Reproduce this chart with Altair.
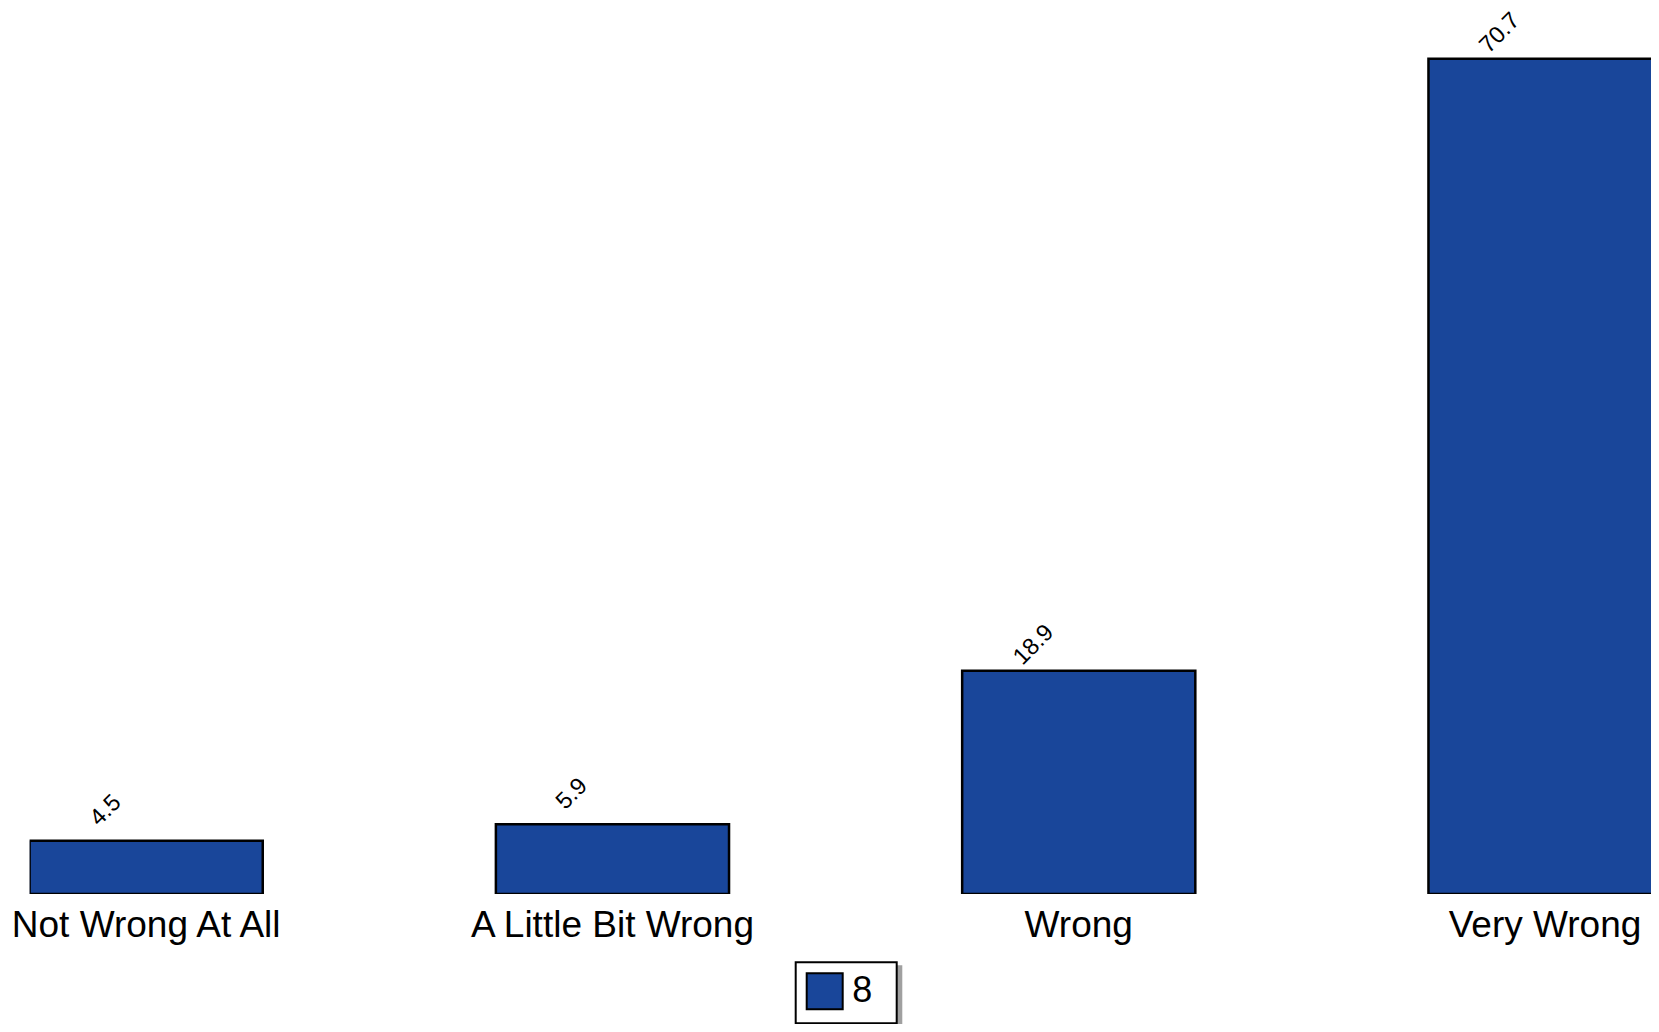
import altair as alt
import pandas as pd

categories = ["Not Wrong At All", "A Little Bit Wrong", "Wrong", "Very Wrong"]
values = [4.5, 5.9, 18.9, 70.7]
series = ["8", "8", "8", "8"]

df = pd.DataFrame({"category": categories, "value": values, "series": series})

FONT = "Liberation Sans"
BLUE = "#19469A"

x_enc = alt.X(
    "category:N",
    sort=categories,
    scale=alt.Scale(range=[0, 1632], paddingInner=0.5, paddingOuter=0),
    axis=alt.Axis(
        title=None, domain=False, ticks=False, tickSize=0, labelAngle=0,
        labelFont=FONT, labelFontSize=37, labelColor="black",
        labelBaseline="alphabetic", labelPadding=42.7, labelLimit=0,
        labelOverlap=False,
    ),
)
y_enc = alt.Y(
    "value:Q",
    scale=alt.Scale(domain=[0, 75], nice=False),
    axis=None,
)

shadow = alt.Chart(pd.DataFrame({"a": [0]})).mark_rect(color="#a0a0a0").encode(
    x=alt.value(769.4), x2=alt.value(872.7),
    y=alt.value(957.3), y2=alt.value(1016.0),
)

bars = alt.Chart(df).mark_bar(stroke="black", strokeWidth=2.5, clip=True).encode(
    x=x_enc,
    y=y_enc,
    color=alt.Color(
        "series:N",
        scale=alt.Scale(range=[BLUE]),
        legend=alt.Legend(
            orient="none", legendX=766.1, legendY=954.3,
            title=".", titleOrient="right", titleColor="white",
            titleFont=FONT, titleFontSize=35, titlePadding=4,
            fillColor="white", strokeColor="black",
            padding=10, symbolType="square", symbolSize=1296,
            symbolStrokeColor="black", symbolStrokeWidth=2,
            symbolFillColor=BLUE, symbolOpacity=1,
            labelFont=FONT, labelFontSize=36, labelColor="black",
            labelOffset=8.5,
        ),
    ),
)

labels = alt.Chart(df).mark_text(
    align="right", baseline="alphabetic", angle=315, clip=False,
    xOffset=-24, yOffset=-37, font=FONT, fontSize=23.5, color="black",
).encode(
    x=alt.X("category:N", sort=categories),
    y=alt.Y("value:Q"),
    text=alt.Text("value:Q", format=".1f"),
)

chart = alt.layer(shadow, bars, labels).properties(
    width=1621.4,
    height=886,
    background="white",
    autosize=alt.AutoSizeParams(type="none"),
    padding={"left": 21.6, "top": 0, "right": 0, "bottom": 130},
).configure_view(stroke=None, strokeWidth=0).configure_legend(strokeWidth=2)

chart.save("out.html", embed_options={"renderer": "svg", "actions": False})
